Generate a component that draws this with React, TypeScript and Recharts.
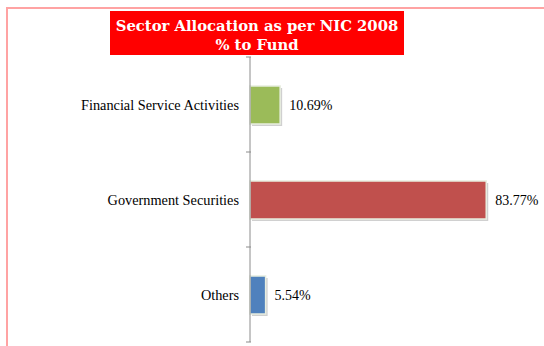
import React from 'react';
import { BarChart, Bar, XAxis, YAxis, LabelList, Cell } from 'recharts';

const sectors = ['Financial Service Activities', 'Government Securities', 'Others'];
const shares = [10.69, 83.77, 5.54];
const barColors = ['#9BBB59', '#C0504D', '#4F81BD'];

const data = sectors.map((name, i) => ({ name, value: shares[i] }));

const serif = '"Liberation Serif", "Times New Roman", serif';

const ShadowBar = (props: any) => {
  const { x, y, width, height, fill } = props;
  if (!width || width <= 0) return null;
  return (
    <g>
      <rect x={x + 2} y={y + 2} width={width} height={height} fill="#d0d0d0" />
      <rect x={x} y={y} width={width} height={height} fill={fill} stroke="#e8eee0" strokeWidth={1.5} />
    </g>
  );
};

const CategoryTick = (props: any) => {
  const { x, y, payload, index } = props;
  const half = 47.5;
  return (
    <g>
      <line x1={x + 4} x2={x + 9} y1={y - half} y2={y - half} stroke="#8c8c8c" />
      {index === sectors.length - 1 && (
        <line x1={x + 4} x2={x + 9} y1={y + half} y2={y + half} stroke="#8c8c8c" />
      )}
      <text x={x - 3} y={y} dy={5} textAnchor="end" fontFamily={serif} fontSize={14.3} fill="#000">
        {payload.value}
      </text>
    </g>
  );
};

export default function App() {
  return (
    <div style={{ position: 'absolute', left: 0, top: 0, width: 544, height: 346, overflow: 'hidden', background: '#fff' }}>
      <div
        style={{
          position: 'absolute',
          left: 6,
          top: 7,
          width: 700,
          height: 500,
          border: '2px solid #ffa3a3',
          boxSizing: 'border-box',
        }}
      />
      <BarChart
        width={544}
        height={346}
        layout="vertical"
        data={data}
        margin={{ top: 57, right: 12, bottom: 4, left: 0 }}
        barSize={38}
      >
        <XAxis type="number" domain={[0, 100]} hide />
        <YAxis
          type="category"
          dataKey="name"
          width={250}
          axisLine={{ stroke: '#8c8c8c' }}
          tickLine={false}
          tick={<CategoryTick />}
        />
        <Bar dataKey="value" isAnimationActive={false} shape={<ShadowBar />}>
          {data.map((d, i) => (
            <Cell key={d.name} fill={barColors[i]} />
          ))}
          <LabelList
            dataKey="value"
            position="right"
            offset={9}
            formatter={(v: any) => `${Number(v).toFixed(2)}%`}
            style={{ fontFamily: serif, fontSize: 14, fill: '#000' }}
          />
        </Bar>
      </BarChart>
      <div
        style={{
          position: 'absolute',
          left: 110,
          top: 11,
          width: 294,
          height: 44,
          background: '#ff0000',
          color: '#fff',
          fontFamily: '"DejaVu Serif", serif',
          fontWeight: 'bold',
          fontSize: 14.8,
          lineHeight: '19px',
          textAlign: 'center',
          paddingTop: 5,
          boxSizing: 'border-box',
        }}
      >
        Sector Allocation as per NIC 2008
        <br />% to Fund
      </div>
    </div>
  );
}
